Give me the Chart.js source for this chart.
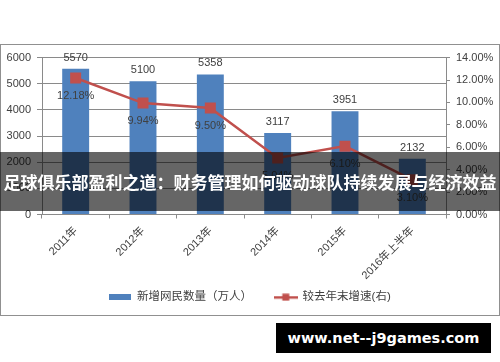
<!DOCTYPE html>
<html>
<head>
<meta charset="utf-8">
<script src="https://cdn.jsdelivr.net/npm/chart.js@4"></script>
<style>
  html, body { margin: 0; padding: 0; background: #fff; }
  body { width: 500px; height: 362px; position: relative; overflow: hidden; }
  #frame { position: absolute; left: 0; top: 44px; width: 500px; height: 272px; box-sizing: border-box; border: 1px solid #909090; }
  #c { position: absolute; left: 1px; top: 45px; }
  #banner { position: absolute; left: 0; top: 152px; width: 500px; height: 59px; background: rgba(0,0,0,0.6);
    color: #fff; font: bold 17px "Noto Sans CJK SC", sans-serif; line-height: 59px; text-align: center; white-space: nowrap; }
  #mark { position: absolute; left: 276px; top: 323px; width: 215px; height: 30px; background: #000;
    color: #fff; font: bold 14.5px "DejaVu Sans", sans-serif; line-height: 30px; text-align: center; }
</style>
</head>
<body>
<div id="frame"></div>
<canvas id="c" width="498" height="270"></canvas>
<div id="banner">足球俱乐部盈利之道：财务管理如何驱动球队持续发展与经济效益</div>
<div id="mark">www.net--j9games.com</div>
<script>
(function () {
  // data
  const years = ['2011年', '2012年', '2013年', '2014年', '2015年', '2016年上半年'];
  const newUsers = [5570, 5100, 5358, 3117, 3951, 2132];      // 万人
  const growthRate = [12.18, 9.94, 9.50, 5.04, 6.10, 3.10];   // %
  const leftTicks = [0, 1000, 2000, 3000, 4000, 5000, 6000];
  const rightTicks = [0, 2, 4, 6, 8, 10, 12, 14];

  const BLUE = '#4f81bd', RED = '#c0504d', TXT = '#404040', GRID = '#8a8a8a';
  const FONT = '"Liberation Sans", "Noto Sans CJK SC", sans-serif';

  // legend swatches
  const barSwatch = document.createElement('canvas');
  barSwatch.width = 22; barSwatch.height = 6;
  let g = barSwatch.getContext('2d');
  g.fillStyle = BLUE; g.fillRect(0, 0, 22, 6);

  const lineSwatch = document.createElement('canvas');
  lineSwatch.width = 24; lineSwatch.height = 8;
  g = lineSwatch.getContext('2d');
  g.fillStyle = RED; g.fillRect(0, 3, 24, 2.5); g.fillRect(8.5, 0.5, 7, 7);

  const valueLabels = {
    id: 'valueLabels',
    afterDatasetsDraw(chart) {
      const ctx = chart.ctx;
      ctx.save();
      ctx.font = '11px ' + FONT;
      ctx.fillStyle = TXT;
      ctx.textAlign = 'center';
      ctx.textBaseline = 'middle';
      chart.getDatasetMeta(0).data.forEach((bar, i) => {
        ctx.fillText(String(newUsers[i]), bar.x, bar.y - 11);
      });
      chart.getDatasetMeta(1).data.forEach((pt, i) => {
        ctx.fillText(growthRate[i].toFixed(2) + '%', pt.x, pt.y + 18);
      });
      ctx.restore();
    }
  };

  new Chart(document.getElementById('c').getContext('2d'), {
    data: {
      labels: years,
      datasets: [
        { type: 'bar', label: '新增网民数量（万人）', data: newUsers, yAxisID: 'y',
          backgroundColor: BLUE, barPercentage: 0.4, categoryPercentage: 1, order: 1 },
        { type: 'line', label: '较去年末增速(右)', data: growthRate, yAxisID: 'y1',
          borderColor: RED, borderWidth: 2.5, backgroundColor: RED, pointStyle: 'rect',
          pointRadius: 6, pointBorderColor: RED, pointBackgroundColor: RED, tension: 0, order: 0 }
      ]
    },
    options: {
      responsive: false,
      animation: false,
      layout: { padding: { top: 12, bottom: 2 } },
      plugins: {
        tooltip: { enabled: false },
        legend: {
          position: 'bottom',
          labels: {
            usePointStyle: true, pointStyleWidth: 22, padding: 10, color: TXT,
            font: { size: 11.5, family: FONT },
            generateLabels: () => [
              { text: '新增网民数量（万人）    ', pointStyle: barSwatch, fillStyle: BLUE, strokeStyle: BLUE, lineWidth: 0, hidden: false, datasetIndex: 0, fontColor: TXT },
              { text: '较去年末增速(右)', pointStyle: lineSwatch, fillStyle: RED, strokeStyle: RED, lineWidth: 0, hidden: false, datasetIndex: 1, fontColor: TXT }
            ]
          }
        }
      },
      scales: {
        x: {
          grid: { display: true, drawOnChartArea: false, offset: true, tickLength: 4, color: GRID },
          border: { color: GRID },
          ticks: { color: TXT, font: { size: 11, family: FONT }, minRotation: 45, maxRotation: 45, autoSkip: false, padding: 6 },
          afterFit(s) { s.height = 67; }
        },
        y: {
          position: 'left', min: 0, max: 6000,
          afterBuildTicks(s) { s.ticks = leftTicks.map(v => ({ value: v })); },
          grid: { color: GRID, tickLength: 5 },
          border: { color: GRID },
          ticks: { color: TXT, font: { size: 11, family: FONT }, padding: 6, callback: v => String(v) },
          afterFit(s) { s.width = 41; }
        },
        y1: {
          position: 'right', min: 0, max: 14,
          afterBuildTicks(s) { s.ticks = rightTicks.map(v => ({ value: v })); },
          grid: { drawOnChartArea: false, color: GRID, tickLength: 4 },
          border: { color: GRID },
          ticks: { color: TXT, font: { size: 11, family: FONT }, padding: 6, callback: v => v.toFixed(2) + '%' },
          afterFit(s) { s.width = 53; }
        }
      }
    },
    plugins: [valueLabels]
  });
})();
</script>
</body>
</html>
